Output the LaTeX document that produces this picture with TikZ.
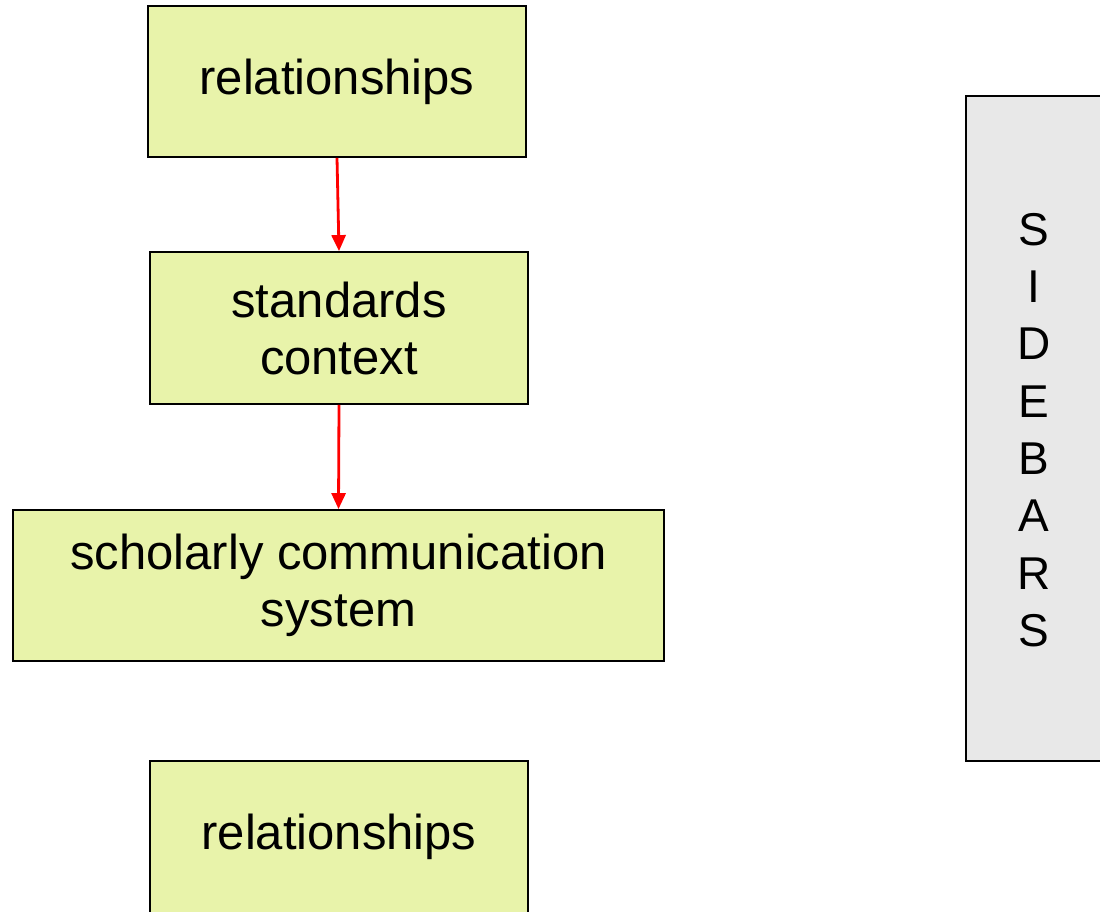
\documentclass[tikz,border=0pt]{standalone}
\usepackage{fontspec}
\setmainfont{Liberation Sans}
\usetikzlibrary{arrows.meta}
\definecolor{boxfill}{RGB}{232,243,170}
\definecolor{sidefill}{RGB}{232,232,232}
\definecolor{arrowred}{RGB}{255,0,0}
\tikzset{
  greenbox/.style={draw=black, line width=1.8pt, fill=boxfill, rectangle, inner sep=0pt,
    align=center, font=\fontsize{49}{57}\selectfont},
  sidebox/.style={draw=black, line width=1.8pt, fill=sidefill, rectangle, inner sep=0pt},
  flow/.style={draw=arrowred, line width=2.8pt, -{Triangle[length=16pt,width=14pt]}}
}
\begin{document}
\begin{tikzpicture}[x=1pt,y=-1pt]
\useasboundingbox (0,0) rectangle (1100,912);
\node[greenbox, minimum width=378pt, minimum height=151pt] (rel1) at (337,81.5) {relationships};
\node[greenbox, minimum width=378pt, minimum height=152pt] (std) at (339,328) {standards\\context};
\node[greenbox, minimum width=651pt, minimum height=151pt] (scs) at (338.5,585.5) {scholarly communication\\system};
\node[greenbox, minimum width=378pt, minimum height=152pt] (rel2) at (339,837) {relationships};
\node[sidebox, minimum width=150pt, minimum height=665pt] (side) at (1041,428.5) {};
\node[font=\fontsize{46}{57.3}\selectfont, align=center] (sidetext) at (1034,430) {S\\I\\D\\E\\B\\A\\R\\S};
\draw[flow] (rel1.south) -- (std.north);
\draw[flow] (std.south) -- (scs.north);
\end{tikzpicture}
\end{document}
